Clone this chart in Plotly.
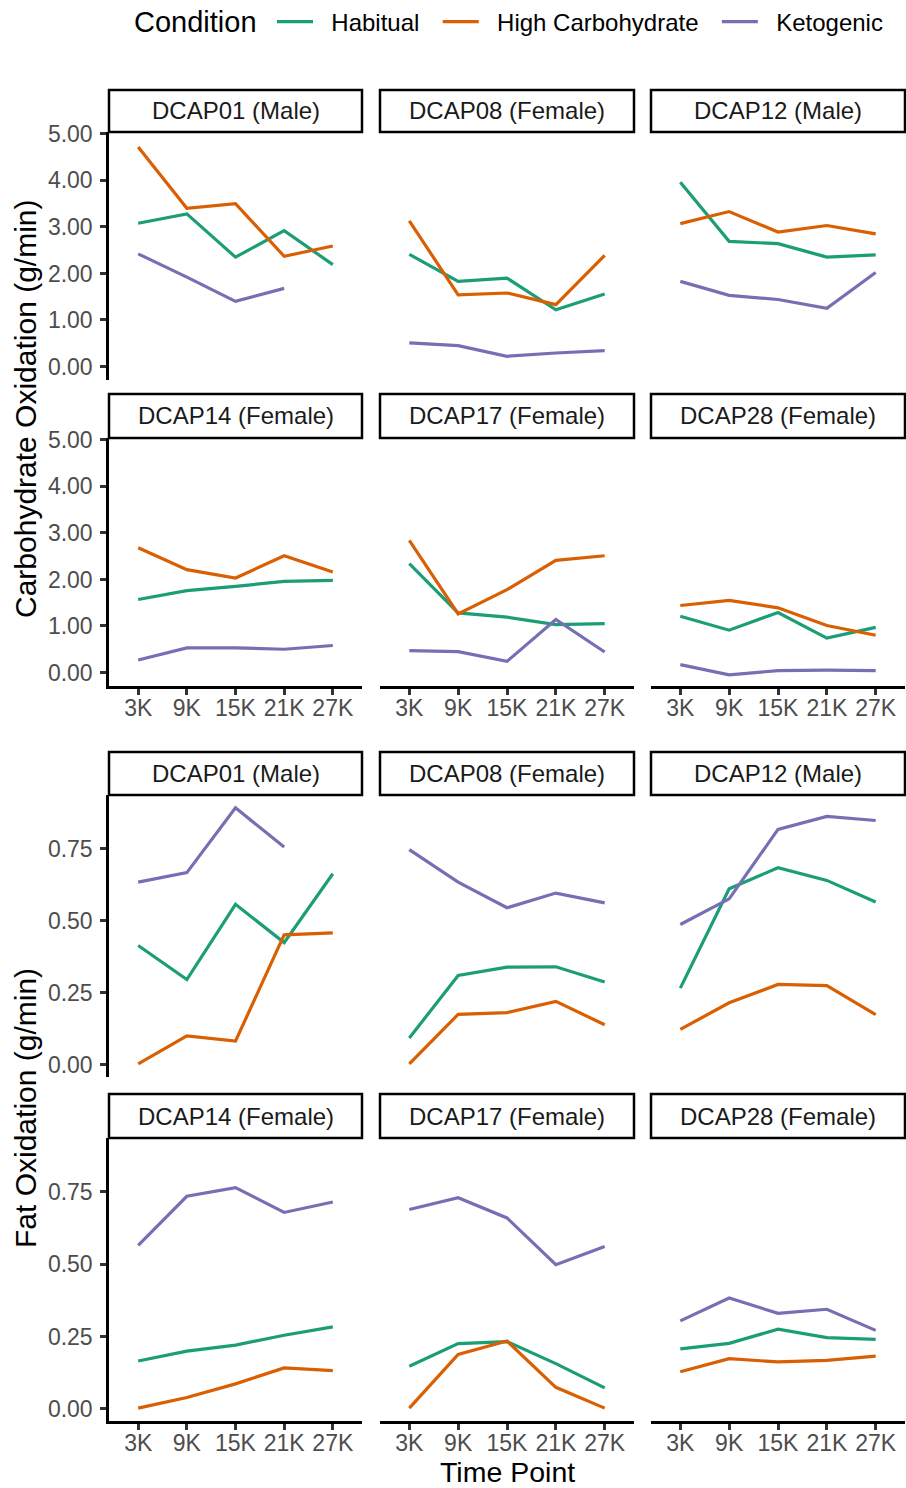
import plotly.graph_objects as go

# ---------------- data ----------------
time_points = ["3K", "9K", "15K", "21K", "27K"]
participants = ["DCAP01 (Male)", "DCAP08 (Female)", "DCAP12 (Male)",
                "DCAP14 (Female)", "DCAP17 (Female)", "DCAP28 (Female)"]
conditions = ["Habitual", "High Carbohydrate", "Ketogenic"]
colors = ["#1B9E77", "#D95F02", "#7570B3"]

# Carbohydrate oxidation (g/min), one row per participant
carb_habitual = [
    [3.08, 3.28, 2.35, 2.92, 2.19],
    [2.41, 1.83, 1.90, 1.22, 1.56],
    [3.96, 2.69, 2.64, 2.35, 2.40],
    [1.57, 1.76, 1.85, 1.96, 1.98],
    [2.34, 1.28, 1.19, 1.03, 1.05],
    [1.21, 0.91, 1.29, 0.74, 0.97],
]
carb_high_cho = [
    [4.72, 3.40, 3.50, 2.37, 2.59],
    [3.13, 1.54, 1.58, 1.33, 2.39],
    [3.07, 3.33, 2.89, 3.03, 2.85],
    [2.68, 2.21, 2.03, 2.51, 2.16],
    [2.84, 1.26, 1.78, 2.41, 2.51],
    [1.44, 1.55, 1.39, 1.01, 0.80],
]
carb_ketogenic = [
    [2.42, 1.92, 1.40, 1.68, None],
    [0.51, 0.45, 0.22, 0.29, 0.34],
    [1.83, 1.53, 1.44, 1.25, 2.02],
    [0.27, 0.53, 0.53, 0.50, 0.58],
    [0.47, 0.45, 0.24, 1.14, 0.44],
    [0.17, -0.05, 0.04, 0.05, 0.04],
]

# Fat oxidation (g/min)
fat_habitual = [
    [0.414, 0.296, 0.557, 0.424, 0.663],
    [0.093, 0.310, 0.339, 0.340, 0.287],
    [0.266, 0.611, 0.684, 0.640, 0.565],
    [0.165, 0.199, 0.220, 0.254, 0.283],
    [0.147, 0.225, 0.232, 0.156, 0.072],
    [0.207, 0.226, 0.275, 0.246, 0.240],
]
fat_high_cho = [
    [0.003, 0.100, 0.082, 0.451, 0.458],
    [0.003, 0.175, 0.181, 0.220, 0.139],
    [0.123, 0.215, 0.279, 0.275, 0.174],
    [0.002, 0.039, 0.086, 0.141, 0.132],
    [0.002, 0.188, 0.234, 0.074, 0.002],
    [0.128, 0.173, 0.162, 0.167, 0.182],
]
fat_ketogenic = [
    [0.634, 0.667, 0.892, 0.756, None],
    [0.747, 0.634, 0.545, 0.596, 0.562],
    [0.487, 0.576, 0.817, 0.862, 0.848],
    [0.565, 0.735, 0.765, 0.679, 0.715],
    [0.689, 0.730, 0.660, 0.498, 0.561],
    [0.304, 0.383, 0.330, 0.344, 0.271],
]

carb_ticks = [0, 1, 2, 3, 4, 5]
fat_ticks = [0, 0.25, 0.5, 0.75]

# ---------------- layout helpers ----------------
W, H = 906, 1488
FONT = "Liberation Sans, Arial, sans-serif"


def fx(px):
    return px / W


def fy(py):
    return 1 - py / H


col_px = [(109, 362), (380, 634), (651, 905)]
grids = [
    dict(series=[carb_habitual, carb_high_cho, carb_ketogenic],
         rows=[(90, 132, 380), (394, 438, 686)],
         yrange=[-0.29, 5.04], ticks=carb_ticks,
         title="Carbohydrate Oxidation (g/min)", title_y=409),
    dict(series=[fat_habitual, fat_high_cho, fat_ketogenic],
         rows=[(752, 795, 1077), (1094, 1138, 1421)],
         yrange=[-0.0425, 0.9365], ticks=fat_ticks,
         title="Fat Oxidation (g/min)", title_y=1108),
]

fig = go.Figure()
shapes, annotations = [], []
layout_axes = {}
n = 0
for gi, g in enumerate(grids):
    for p, name in enumerate(participants):
        r, c = divmod(p, 3)
        n += 1
        sx = "" if n == 1 else str(n)
        strip_top, strip_bot, panel_bot = g["rows"][r]
        left, right = col_px[c]
        for ci, cond in enumerate(conditions):
            fig.add_trace(go.Scatter(
                x=time_points, y=g["series"][ci][p], mode="lines",
                name="  " + cond + "  ", legendgroup=cond,
                showlegend=(gi == 0 and p == 0),
                line=dict(color=colors[ci], width=3.2),
                xaxis="x" + sx, yaxis="y" + sx, connectgaps=False,
            ))
        bottom_row = (r == 1)
        left_col = (c == 0)
        layout_axes["xaxis" + sx] = dict(
            domain=[fx(left), fx(right)], anchor="y" + sx,
            type="category", categoryorder="array", categoryarray=time_points,
            range=[-0.6, 4.6], showgrid=False, zeroline=False,
            showline=bottom_row, linecolor="black", linewidth=2.5,
            ticks="outside" if bottom_row else "", ticklen=6, tickwidth=2.5,
            tickcolor="#333333", showticklabels=bottom_row,
            ticklabelstandoff=-6, automargin=False,
            tickfont=dict(family=FONT, size=23, color="#4D4D4D"),
        )
        layout_axes["yaxis" + sx] = dict(
            domain=[fy(panel_bot), fy(strip_bot)], anchor="x" + sx,
            range=g["yrange"], tickvals=g["ticks"], tickformat=".2f",
            showgrid=False, zeroline=False,
            showline=left_col, linecolor="black", linewidth=2.5,
            ticks="outside" if left_col else "", ticklen=6, tickwidth=2.5,
            tickcolor="#333333", showticklabels=left_col,
            ticklabelstandoff=3, automargin=False,
            tickfont=dict(family=FONT, size=23, color="#4D4D4D"),
        )
        shapes.append(dict(type="rect", xref="paper", yref="paper",
                           x0=fx(left), x1=fx(right),
                           y0=fy(strip_bot), y1=fy(strip_top),
                           line=dict(color="black", width=2.5),
                           fillcolor="white"))
        annotations.append(dict(text=name, xref="paper", yref="paper",
                                x=fx((left + right) / 2),
                                y=fy((strip_top + strip_bot) / 2),
                                showarrow=False, xanchor="center",
                                yanchor="middle",
                                font=dict(family=FONT, size=24,
                                          color="#1A1A1A")))
    annotations.append(dict(text=g["title"], xref="paper", yref="paper",
                            x=fx(25), y=fy(g["title_y"]), textangle=-90,
                            showarrow=False, xanchor="center",
                            yanchor="middle",
                            font=dict(family=FONT, size=30, color="black")))

annotations.append(dict(text="Time Point", xref="paper", yref="paper",
                        x=fx(507), y=fy(1471.5), showarrow=False,
                        xanchor="center", yanchor="middle",
                        font=dict(family=FONT, size=28.5, color="black")))
# legend title
annotations.append(dict(text="Condition", xref="paper", yref="paper",
                        x=fx(132), y=fy(22), showarrow=False,
                        xanchor="left", yanchor="middle",
                        font=dict(family=FONT, size=29, color="black")))

fig.update_layout(
    width=W, height=H,
    margin=dict(l=0, r=0, t=0, b=0, autoexpand=False),
    paper_bgcolor="white", plot_bgcolor="white",
    shapes=shapes, annotations=annotations,
    showlegend=True,
    legend=dict(orientation="h", x=fx(272), y=fy(22), xanchor="left",
                yanchor="middle", itemwidth=36,
                font=dict(family=FONT, size=24, color="black"),
                bgcolor="rgba(0,0,0,0)"),
    **layout_axes,
)

fig.write_html("out.html", config={"displayModeBar": False},
               post_script="document.body.style.margin='0';")
